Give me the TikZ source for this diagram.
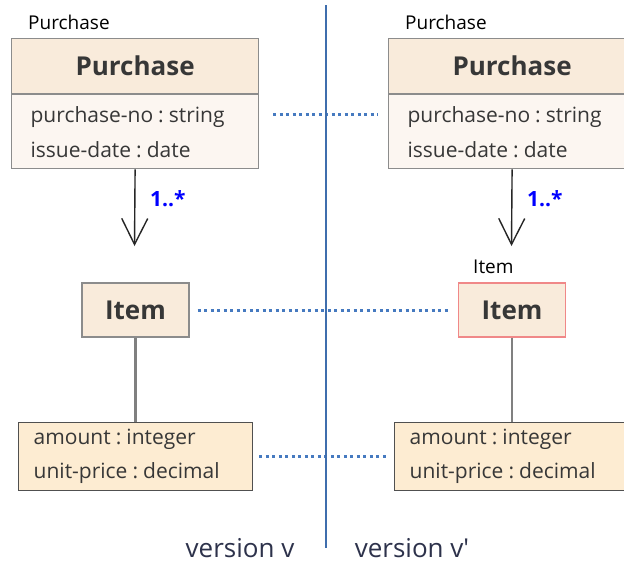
\documentclass[tikz,border=0pt]{standalone}
\usepackage{fontspec}
\setmainfont{Open Sans}
\usetikzlibrary{arrows.meta}
\definecolor{headcolor}{RGB}{249,235,219}
\definecolor{attrcolor}{RGB}{252,246,241}
\definecolor{valcolor}{RGB}{253,236,210}
\definecolor{framecolor}{RGB}{140,140,140}
\definecolor{darkframe}{RGB}{80,80,80}
\definecolor{changecolor}{RGB}{240,136,136}
\definecolor{linkcolor}{RGB}{70,122,192}
\definecolor{textcolor}{RGB}{55,55,55}
\definecolor{versioncolor}{RGB}{45,50,75}
\newcommand{\colsep}{\hspace{0.24em}:\hspace{0.24em}}

\begin{document}
\begin{tikzpicture}[x=1pt, y=-1pt,
  head/.style={draw=framecolor, fill=headcolor, line width=1.2pt, minimum width=247pt,
    minimum height=55pt, inner sep=0pt, font=\fontsize{26}{30}\selectfont\bfseries, text=textcolor},
  attrs/.style={draw=framecolor, fill=attrcolor, line width=1.2pt, minimum height=74pt,
    inner xsep=19pt, inner ysep=0pt, text width=209pt, align=left,
    font=\fontsize{21}{35}\selectfont, text=textcolor},
  itembox/.style={draw=framecolor, fill=headcolor, line width=1.2pt, minimum width=107pt,
    minimum height=54pt, inner sep=0pt, font=\fontsize{26}{30}\selectfont\bfseries, text=textcolor},
  valbox/.style={draw=darkframe, fill=valcolor, line width=1.4pt, minimum height=68pt,
    inner xsep=15pt, inner ysep=0pt, text width=204pt, align=left,
    font=\fontsize{21}{34}\selectfont, text=textcolor},
  tag/.style={inner sep=0pt, font=\fontsize{19}{22}\selectfont, text=black},
  mult/.style={inner sep=0pt, font=\fontsize{21}{24}\selectfont\bfseries, text=blue},
  assoc/.style={draw=black!85, line width=1.4pt, -{Straight Barb[length=26pt, width=26pt, line width=1.4pt]}},
  comp/.style={draw=gray, line width=2.2pt},
  link/.style={draw=linkcolor, line width=3pt, dash pattern=on 3pt off 3.5pt},
  version/.style={inner sep=0pt, font=\fontsize{26}{30}\selectfont, text=versioncolor}]
\clip (0,0) rectangle (624,563);
\fill[white] (0,0) rectangle (624,563);
% version v
\node[tag, anchor=base west] (purchTagL) at (28,29) {Purchase};
\node[head, anchor=north west] (purchHeadL) at (11,38) {Purchase};
\node[attrs, anchor=north] (purchAttrL) at (purchHeadL.south) {purchase-no\colsep string\\issue-date\colsep date};
\coordinate (arrEndL) at (134.5,246);
\node[mult, anchor=west] (multL) at (150,199) {1..*};
\node[itembox] (itemL) at (135.5,310) {Item};
\node[valbox, anchor=north west] (valL) at (18,422) {amount\colsep integer\\unit-price\colsep decimal};
% version v'
\node[tag, anchor=base west] (purchTagR) at (405,29) {Purchase};
\node[head, anchor=north west] (purchHeadR) at (388,38) {Purchase};
\node[attrs, anchor=north] (purchAttrR) at (purchHeadR.south) {purchase-no\colsep string\\issue-date\colsep date};
\coordinate (arrEndR) at (511.5,246);
\node[mult, anchor=west] (multR) at (527,199) {1..*};
\node[tag, anchor=base west] (itemTagR) at (473,273) {Item};
\node[itembox, draw=changecolor] (itemR) at (512,310) {Item};
\node[valbox, anchor=north west] (valR) at (394,422) {amount\colsep integer\\unit-price\colsep decimal};
% connectors
\draw[assoc] (purchAttrL.south) -- (arrEndL);
\draw[assoc] (purchAttrR.south) -- (arrEndR);
\draw[comp] (itemL.south) -- (valL.north -| itemL.south);
\draw[comp] (itemR.south) -- (valR.north -| itemR.south);
\draw[link] ([shift={(14,-17)}]purchAttrL.east) -- ([shift={(-10,-17)}]purchAttrR.west);
\draw[link] ([xshift=8pt]itemL.east) -- ([xshift=-9pt]itemR.west);
\draw[link] ([xshift=6pt]valL.east) -- ([xshift=-5pt]valR.west);
% versions
\draw[linkcolor!90!black, line width=1.5pt] (326,5) -- (326,548);
\node[version, anchor=base] (verL) at (240,557) {version v};
\node[version, anchor=base] (verR) at (412,557) {version v\textquotesingle};
\end{tikzpicture}
\end{document}
